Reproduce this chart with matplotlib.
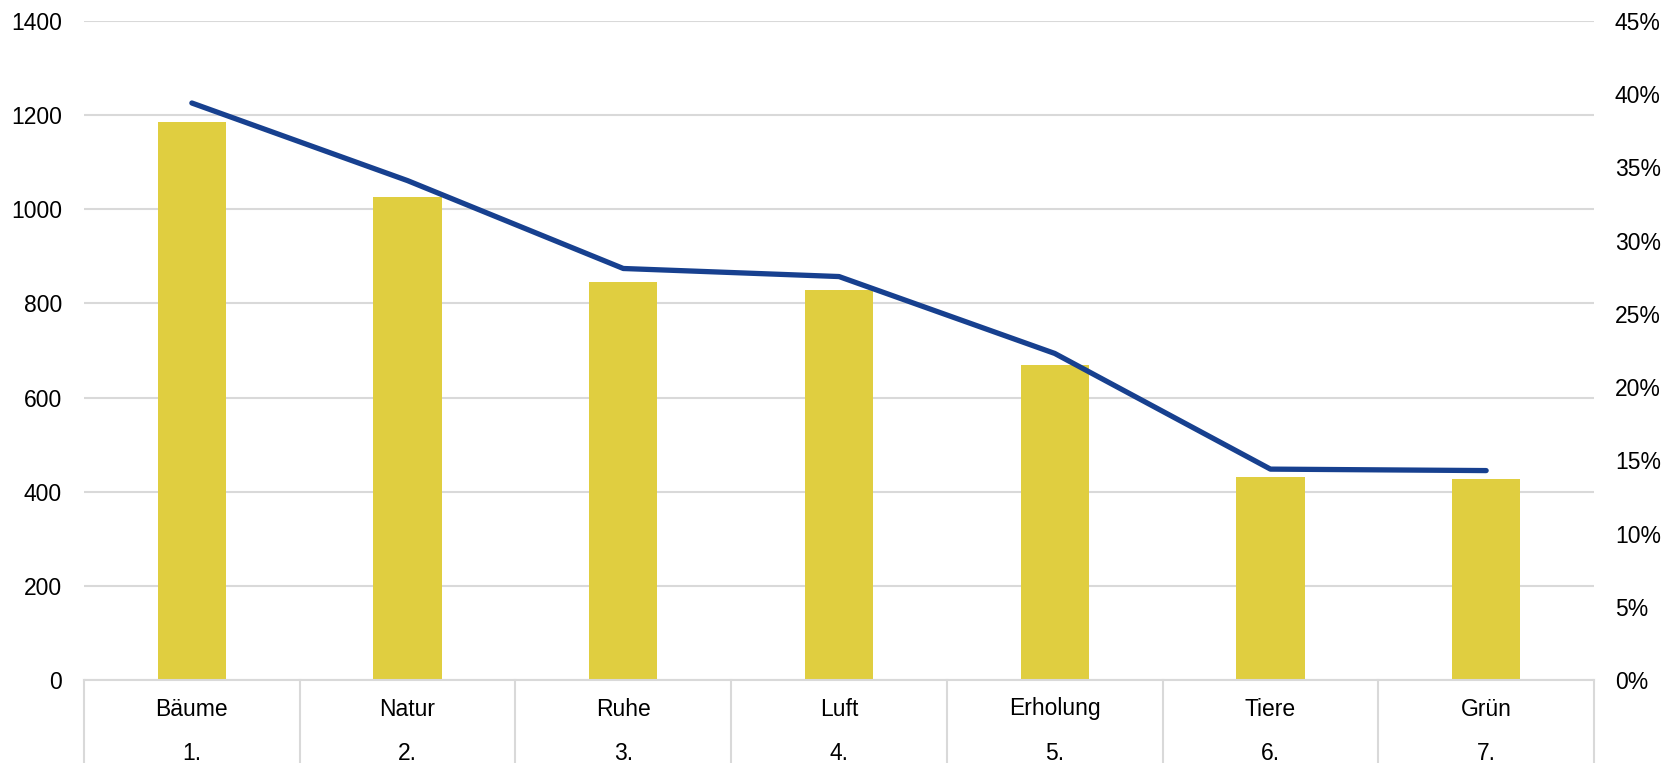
import matplotlib
matplotlib.use("Agg")
import matplotlib.pyplot as plt
from matplotlib.ticker import FuncFormatter, MultipleLocator
import matplotlib.transforms as mtransforms

plt.rcParams['font.family'] = ['Liberation Sans', 'DejaVu Sans']

categories = ["Bäume", "Natur", "Ruhe", "Luft", "Erholung", "Tiere", "Grün"]
ranks = ["1.", "2.", "3.", "4.", "5.", "6.", "7."]
counts = [1185, 1026, 846, 829, 669, 431, 427]
shares = [39.4, 34.1, 28.1, 27.55, 22.3, 14.4, 14.3]

W, H = 1680, 763
fig = plt.figure(figsize=(W / 100, H / 100), dpi=100)
left, right, top, bottom = 84, 1594, 21, 680
ax = fig.add_axes([left / W, (H - bottom) / H, (right - left) / W, (bottom - top) / H])

FS = 16.5
x = list(range(len(categories)))
ax.bar(x, counts, width=0.317, color='#E0CE40', zorder=2)
ax.set_xlim(-0.5, len(categories) - 0.5)
ax.set_ylim(0, 1400)
ax.yaxis.set_major_locator(MultipleLocator(200))
ax.grid(axis='y', color='#D9D9D9', linewidth=1.5, zorder=0)
ax.set_axisbelow(True)
for s in ['top', 'right', 'left']:
    ax.spines[s].set_visible(False)
ax.spines['bottom'].set_color('#D9D9D9')
ax.spines['bottom'].set_linewidth(1.5)
ax.set_xticks([])
ax.tick_params(axis='y', length=0, labelsize=FS, pad=16, colors='black')

ax2 = ax.twinx()
ax2.plot(x, shares, color='#17408F', linewidth=3.8, solid_capstyle='round',
         solid_joinstyle='round', zorder=3)
ax2.set_ylim(0, 45)
ax2.yaxis.set_major_locator(MultipleLocator(5))
ax2.yaxis.set_major_formatter(FuncFormatter(lambda v, p: f"{int(round(v))}%"))
for s in ['top', 'right', 'left', 'bottom']:
    ax2.spines[s].set_visible(False)
ax2.tick_params(axis='y', length=0, labelsize=FS, pad=15, colors='black')

# two-level category axis
trans = mtransforms.blended_transform_factory(ax.transData, ax.transAxes)
px = 1.0 / (bottom - top)
for i in range(len(categories) + 1):
    ax.plot([i - 0.5, i - 0.5], [0, -(H - bottom + 5) * px], transform=trans,
            color='#D9D9D9', linewidth=1.5, clip_on=False)
for i, (c, r) in enumerate(zip(categories, ranks)):
    ax.text(i, -(709 - bottom) * px, c, transform=trans, ha='center', va='center',
            fontsize=FS)
    ax.text(i, -(753 - bottom) * px, r, transform=trans, ha='center', va='center',
            fontsize=FS)

fig.savefig("out.png", dpi=100)
